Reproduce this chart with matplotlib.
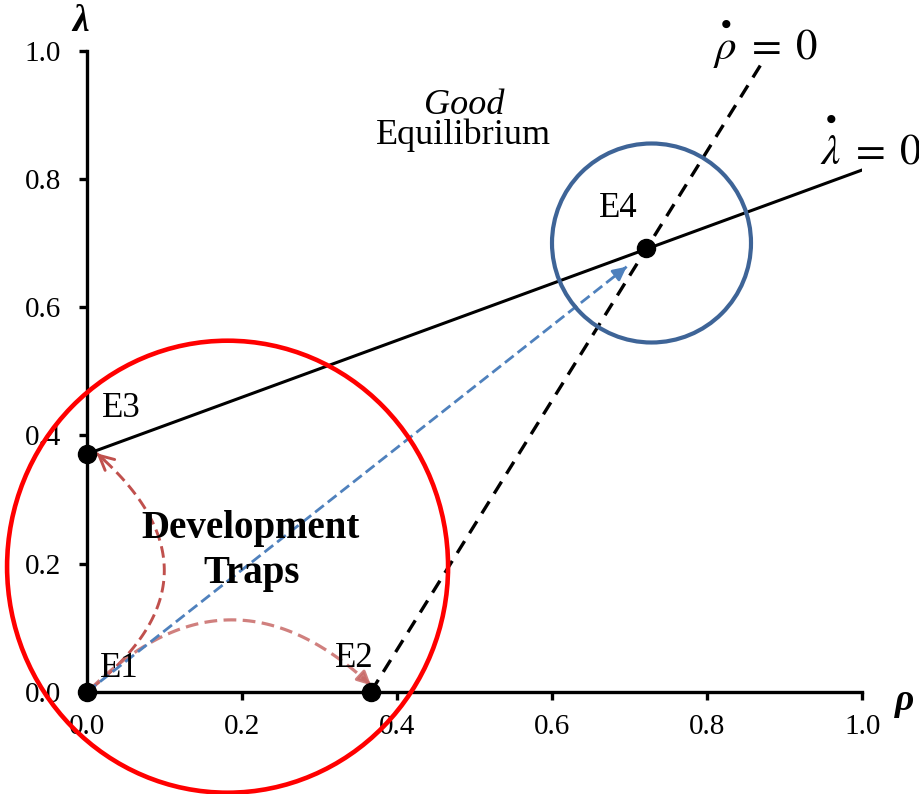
import matplotlib
matplotlib.use("Agg")
import matplotlib.pyplot as plt
import numpy as np
from matplotlib.patches import Ellipse

# equilibrium points
point_names = ["E1", "E2", "E3", "E4"]
point_rho = [0.0, 0.366, 0.0, 0.721]
point_lam = [0.0, 0.0, 0.371, 0.692]

# lambda-dot = 0 locus (solid) and rho-dot = 0 locus (dashed)
lam_locus_rho = [0.0, 1.0]
lam_locus_lam = [0.371, 0.814]
rho_locus_rho = [0.366, 0.870]
rho_locus_lam = [0.0, 0.980]

ticks = [0.0, 0.2, 0.4, 0.6, 0.8, 1.0]
tick_labels = ["0.0", "0.2", "0.4", "0.6", "0.8", "1.0"]

# highlighted regions (centre in data units)
trap_center = (0.181, 0.195)
good_center = (0.728, 0.700)

plt.rcParams["font.family"] = ["Liberation Serif", "DejaVu Serif"]
plt.rcParams["mathtext.fontset"] = "stix"

W, H = 920, 794
x0, y0 = 87.3, 691.7      # pixel position of the origin
sx, sy = 775.0, 641.0     # pixels per unit

fig = plt.figure(figsize=(W / 100, H / 100), dpi=100)
ax = fig.add_axes([x0 / W, (H - y0) / H, sx / W, sy / H])
ax.set_xlim(0, 1)
ax.set_ylim(0, 1)

for s in ["top", "right"]:
    ax.spines[s].set_visible(False)
for s in ["left", "bottom"]:
    ax.spines[s].set_linewidth(2.4)
ax.set_xticks(ticks)
ax.set_xticklabels(tick_labels)
ax.set_yticks(ticks)
ax.set_yticklabels(tick_labels)
ax.tick_params(axis="both", direction="out", length=6, width=2.4, labelsize=21)
ax.tick_params(axis="x", pad=10)
ax.tick_params(axis="y", pad=13)

# loci
ax.plot(lam_locus_rho, lam_locus_lam, color="black", lw=2.2, zorder=3)
ax.plot(rho_locus_rho, rho_locus_lam, color="black", lw=2.4, dashes=(4.2, 2.8), zorder=3)


def dashed_arrow(p0, p1, rad, color, lw, dashes, head, alpha=1.0, scale=18):
    T = ax.transData
    d0 = T.transform(p0)
    d1 = T.transform(p1)
    mid = (d0 + d1) / 2
    dx, dy = d1 - d0
    ctrl = mid + rad * np.array([dy, -dx])
    t = np.linspace(0, 1, 80)[:, None]
    curve = (1 - t) ** 2 * d0 + 2 * (1 - t) * t * ctrl + t ** 2 * d1
    cd = T.inverted().transform(curve)
    ax.plot(cd[:, 0], cd[:, 1], color=color, lw=lw, dashes=dashes,
            alpha=alpha, clip_on=False, zorder=4)
    tan = d1 - ctrl if rad != 0 else d1 - d0
    tan = tan / np.hypot(*tan)
    tail = T.inverted().transform(d1 - 10 * tan)
    ax.annotate("", xy=p1, xytext=tail, annotation_clip=False,
                arrowprops=dict(arrowstyle=head, color=color, lw=lw, alpha=alpha,
                                shrinkA=0, shrinkB=0, mutation_scale=scale),
                zorder=4)


dashed_arrow((0.004, 0.004), (0.012, 0.372), 0.60, "#C0504D", 2.1, (4, 2), "->", scale=26)
dashed_arrow((0.004, 0.004), (0.366, 0.010), -0.48, "#C86A68", 2.3, (4, 2), "-|>", alpha=0.85, scale=20)
dashed_arrow((0.0, 0.0), (0.696, 0.663), 0.0, "#4F81BD", 2.0, (4, 1.8), "-|>", scale=20)

# equilibrium points
ax.plot(point_rho, point_lam, "o", color="black", ms=13, clip_on=False, zorder=6)

# circles (radius given in pixels, converted with the axis scales)
r_trap_w, r_trap_h = 220.5, 226.0
r_good = 99.5
ax.add_patch(Ellipse(trap_center, 2 * r_trap_w / sx, 2 * r_trap_h / sy, fill=False,
                     edgecolor="#FF0000", lw=3.3, clip_on=False, zorder=7))
ax.add_patch(Ellipse(good_center, 2 * r_good / sx, 2 * r_good / sy, fill=False,
                     edgecolor="#3E6497", lw=3.0, clip_on=False, zorder=7))

# point labels
label_pos = {"E1": (0.016, 0.023), "E2": (0.320, 0.038), "E3": (0.019, 0.428), "E4": (0.660, 0.740)}
for name in point_names:
    lx, ly = label_pos[name]
    ax.text(lx, ly, name, fontsize=25, ha="left", va="baseline", zorder=8)

ax.text(0.487, 0.902, "Good", fontsize=26, style="italic", ha="center", va="baseline")
ax.text(0.486, 0.854, "Equilibrium", fontsize=26, ha="center", va="baseline")
ax.text(0.211, 0.240, "Development", fontsize=28, weight="bold", ha="center", va="baseline", zorder=8)
ax.text(0.212, 0.169, "Traps", fontsize=28, weight="bold", ha="center", va="baseline", zorder=8)

ax.text(0.807, 0.985, r"$\overset{\bullet}{\rho}\;=\;0$", fontsize=31, ha="left", va="baseline", clip_on=False)
ax.text(0.945, 0.822, r"$\overset{\bullet}{\lambda}\;=\;0$", fontsize=31, ha="left", va="baseline", clip_on=False)

# axis names
ax.text(-0.009, 1.045, "λ", fontsize=27, style="italic", weight="bold", ha="center", va="center", clip_on=False)
ax.text(1.054, -0.013, "ρ", fontsize=27, style="italic", weight="bold", ha="center", va="center", clip_on=False)

fig.savefig("out.png", dpi=100)
